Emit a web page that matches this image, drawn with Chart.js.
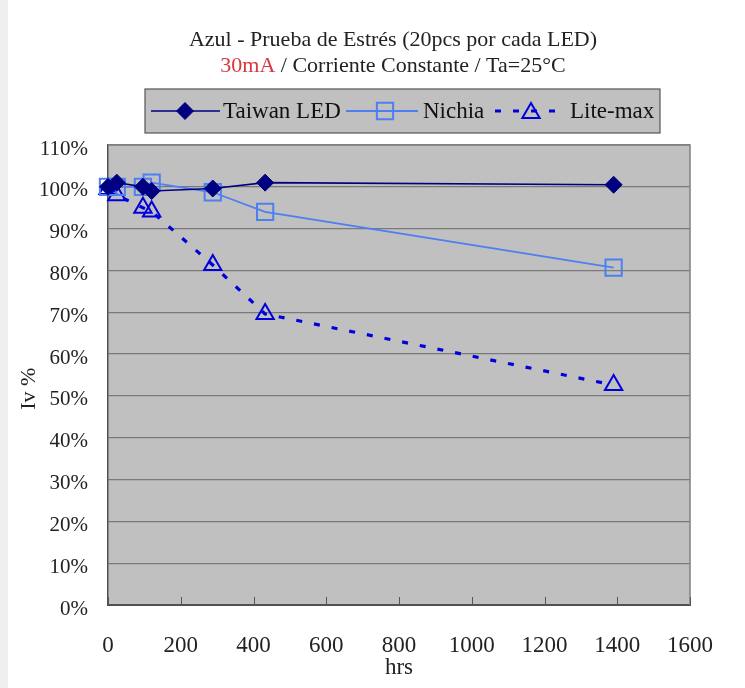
<!DOCTYPE html>
<html>
<head>
<meta charset="utf-8">
<script src="https://cdn.jsdelivr.net/npm/chart.js@4/dist/chart.umd.min.js"></script>
<style>
  html, body { margin:0; padding:0; background:#fff; }
  #wrap { width:745px; height:688px; }
</style>
</head>
<body>
<div id="wrap"><canvas id="ledChart" width="745" height="688"></canvas></div>
<script>
/* ── data ── */
const HOURS       = [0, 24, 96, 120, 288, 432, 1390];
const TAIWAN_LED  = [100, 101, 100, 99, 99.6, 101, 100.5];
const NICHIA      = [100, 100, 100, 101, 98.7, 94, 80.7];
const LITE_MAX    = [99.5, 98, 95, 94.1, 81.3, 69.6, 52.6];
const SERIES_NAMES = ['Taiwan LED', 'Nichia', 'Lite-max'];
const X_TICKS = [0, 200, 400, 600, 800, 1000, 1200, 1400, 1600];
const Y_MAX = 110;

const SERIF = '"Liberation Serif", "DejaVu Serif", serif';

const toPoints = vals => vals.map((v, i) => ({ x: HOURS[i], y: v }));

/* ── title, legend box, plot background, inner ticks ── */
const decorPlugin = {
  id: 'decor',
  beforeDraw(chart) {
    const { ctx, chartArea: a } = chart;
    ctx.save();
    ctx.fillStyle = '#ffffff';
    ctx.fillRect(0, 0, chart.width, chart.height);
    ctx.fillStyle = '#efefef';
    ctx.fillRect(0, 0, 8, chart.height);
    ctx.fillStyle = '#c0c0c0';
    ctx.fillRect(a.left, a.top, a.right - a.left, a.bottom - a.top);
    ctx.restore();
  },
  afterDatasetsDraw(chart) {
    const { ctx, chartArea: a } = chart;
    ctx.save();
    ctx.strokeStyle = '#808080';
    ctx.lineWidth = 1.5;
    ctx.beginPath();
    ctx.moveTo(a.left, a.top); ctx.lineTo(a.right, a.top); ctx.lineTo(a.right, a.bottom);
    ctx.stroke();
    // small tick marks pointing into the plot
    const xs = chart.scales.x;
    ctx.strokeStyle = '#555';
    ctx.lineWidth = 1;
    ctx.beginPath();
    xs.ticks.forEach(t => {
      const px = Math.round(xs.getPixelForValue(t.value)) + 0.5;
      ctx.moveTo(px, a.bottom); ctx.lineTo(px, a.bottom - 8);
    });
    ctx.stroke();
    ctx.restore();
  },
  afterDraw(chart) {
    const { ctx } = chart;
    ctx.save();
    // title
    ctx.textBaseline = 'middle';
    ctx.font = '22px ' + SERIF;
    ctx.fillStyle = '#222';
    ctx.textAlign = 'center';
    ctx.fillText('Azul - Prueba de Estrés (20pcs por cada LED)', 393, 40);
    const red = '30mA', rest = ' / Corriente Constante / Ta=25°C';
    const wR = ctx.measureText(red).width, wT = ctx.measureText(rest).width;
    let x0 = 393 - (wR + wT) / 2;
    ctx.textAlign = 'left';
    ctx.fillStyle = '#d9363e';
    ctx.fillText(red, x0, 66);
    ctx.fillStyle = '#222';
    ctx.fillText(rest, x0 + wR, 66);

    // legend box
    const box = { l: 145, t: 89, r: 660, b: 133 };
    ctx.fillStyle = '#c0c0c0';
    ctx.fillRect(box.l, box.t, box.r - box.l, box.b - box.t);
    ctx.strokeStyle = '#555';
    ctx.lineWidth = 1.2;
    ctx.strokeRect(box.l, box.t, box.r - box.l, box.b - box.t);

    const cy = 111;
    const items = [
      { ds: 0, x1: 151, x2: 220, mx: 185, tx: 223 },
      { ds: 1, x1: 346, x2: 418, mx: 385, tx: 423 },
      { ds: 2, x1: 495, x2: 560, mx: 531, tx: 570 },
    ];
    ctx.font = '23px ' + SERIF;
    items.forEach(it => {
      const ds = chart.data.datasets[it.ds];
      ctx.save();
      ctx.strokeStyle = ds.borderColor;
      ctx.lineWidth = ds.borderWidth;
      ctx.setLineDash(ds.borderDash || []);
      ctx.beginPath();
      ctx.moveTo(it.x1, cy); ctx.lineTo(it.x2, cy);
      ctx.stroke();
      ctx.restore();
      ctx.save();
      ctx.strokeStyle = ds.pointBorderColor;
      ctx.fillStyle = ds.pointBackgroundColor;
      ctx.lineWidth = ds.pointBorderWidth;
      Chart.helpers.drawPoint(ctx, {
        pointStyle: ds.pointStyle, radius: ds.pointRadius,
        borderWidth: ds.pointBorderWidth, rotation: 0
      }, it.mx, it.ds === 2 ? cy + 2 : cy);
      ctx.restore();
      ctx.fillStyle = '#111';
      ctx.textAlign = 'left';
      ctx.fillText(SERIES_NAMES[it.ds], it.tx, cy + 1);
    });
    ctx.restore();
  }
};

const chart = new Chart(document.getElementById('ledChart'), {
  type: 'line',
  data: {
    datasets: [
      {
        label: SERIES_NAMES[0], data: toPoints(TAIWAN_LED),
        borderColor: '#000080', borderWidth: 1.6,
        pointStyle: 'rectRot', pointRadius: 8.5,
        pointBackgroundColor: '#000080', pointBorderColor: '#000080', pointBorderWidth: 1,
        order: 1
      },
      {
        label: SERIES_NAMES[1], data: toPoints(NICHIA),
        borderColor: '#4d7ff0', borderWidth: 1.8,
        pointStyle: 'rect', pointRadius: 11.5,
        pointBackgroundColor: 'rgba(0,0,0,0)', pointBorderColor: '#4d7ff0', pointBorderWidth: 2,
        order: 2
      },
      {
        label: SERIES_NAMES[2], data: toPoints(LITE_MAX),
        borderColor: '#0000dd', borderWidth: 3.2, borderDash: [6, 12],
        pointStyle: 'triangle', pointRadius: 10,
        pointBackgroundColor: 'rgba(0,0,0,0)', pointBorderColor: '#0000dd', pointBorderWidth: 2,
        order: 3
      }
    ]
  },
  options: {
    responsive: false,
    animation: false,
    devicePixelRatio: 1,
    clip: false,
    layout: { padding: { top: 145, right: 55, left: 0, bottom: 0 } },
    elements: { line: { tension: 0 } },
    plugins: { legend: { display: false }, title: { display: false }, tooltip: { enabled: false } },
    scales: {
      x: {
        type: 'linear', min: 0, max: 1600,
        afterFit: s => { s.height = 83; },
        afterBuildTicks: s => { s.ticks = X_TICKS.map(v => ({ value: v })); },
        grid: { display: false, drawTicks: false },
        border: { display: true, color: '#505050', width: 2 },
        ticks: { autoSkip: false, maxRotation: 0, padding: 27, color: '#222',
                 callback: v => String(v),
                 font: { family: SERIF, size: 23, lineHeight: 1.2 } },
        title: { display: true, text: 'hrs', color: '#222', padding: { top: 0, bottom: 9 },
                 font: { family: SERIF, size: 23, lineHeight: 1 } }
      },
      y: {
        min: 0, max: Y_MAX,
        afterFit: s => { s.width = 108; },
        grid: { color: '#7a7a7a', lineWidth: 1.3, drawTicks: false },
        border: { display: true, color: '#505050', width: 1.5 },
        ticks: { stepSize: 10, padding: 20, labelOffset: 4, color: '#222', callback: v => v + '%',
                 font: { family: SERIF, size: 21 } },
        title: { display: true, text: 'Iv %     ', color: '#222', padding: { top: 18, bottom: 0 },
                 font: { family: SERIF, size: 22, lineHeight: 1 } }
      }
    }
  },
  plugins: [decorPlugin]
});
</script>
</body>
</html>
